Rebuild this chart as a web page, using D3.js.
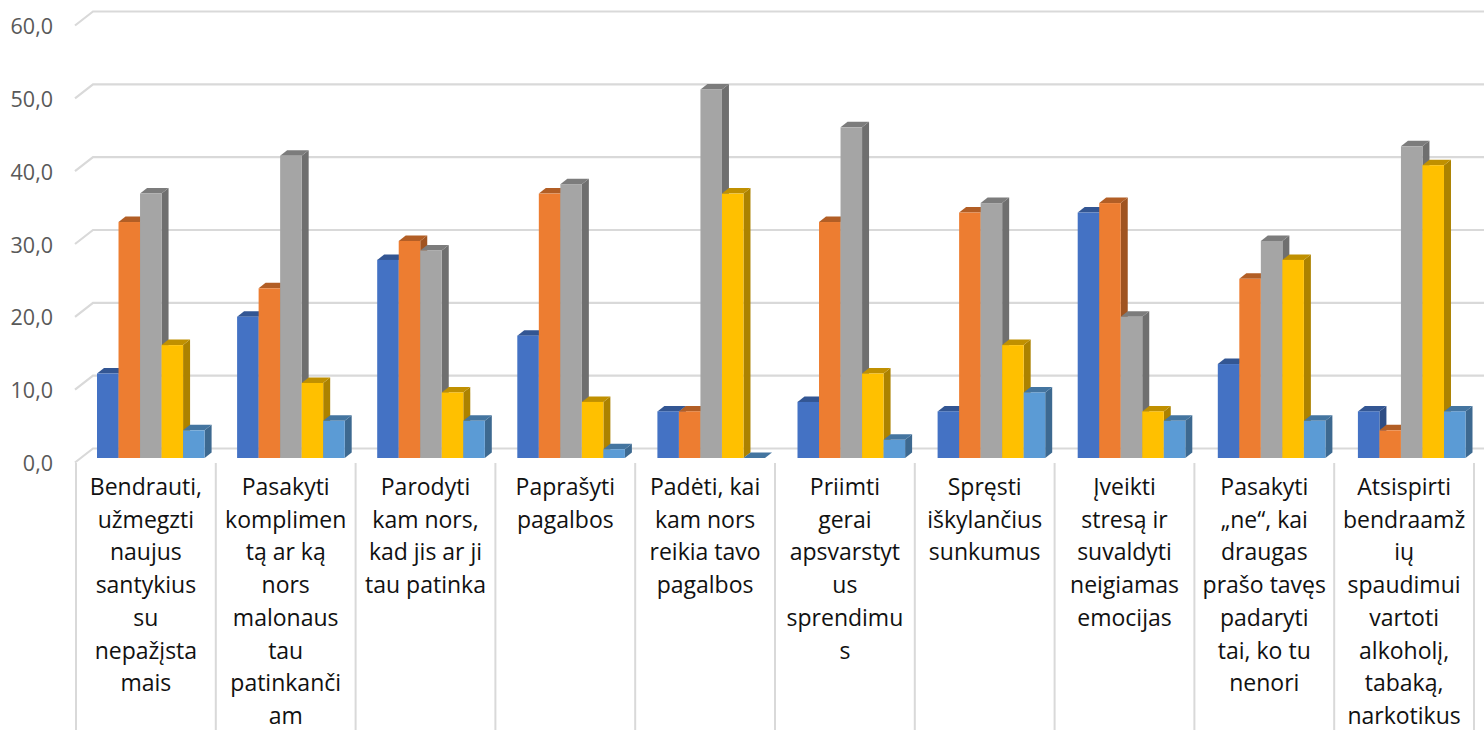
<!DOCTYPE html>
<html>
<head>
<meta charset="utf-8">
<style>
body{margin:0;background:#fff}
svg{display:block}
text{font-family:"Open Sans",sans-serif}
</style>
</head>
<body>
<svg width="1484" height="730"></svg>
<script src="https://d3js.org/d3.v7.min.js"></script>
<script>
// category labels, wrapped like in the original
var categories=[
 ["Bendrauti,","užmegzti","naujus","santykius","su","nepažįsta","mais"],
 ["Pasakyti","komplimen","tą ar ką","nors","malonaus","tau","patinkanči","am"],
 ["Parodyti","kam nors,","kad jis ar ji","tau patinka"],
 ["Paprašyti","pagalbos"],
 ["Padėti, kai","kam nors","reikia tavo","pagalbos"],
 ["Priimti","gerai","apsvarstyt","us","sprendimu","s"],
 ["Spręsti","iškylančius","sunkumus"],
 ["Įveikti","stresą ir","suvaldyti","neigiamas","emocijas"],
 ["Pasakyti","„ne“, kai","draugas","prašo tavęs","padaryti","tai, ko tu","nenori"],
 ["Atsispirti","bendraamž","ių","spaudimui","vartoti","alkoholį,","tabaką,","narkotikus"]
]
var s1=[11.6,19.4,27.2,16.8,6.4,7.7,6.4,33.7,12.9,6.4]
var s2=[32.4,23.3,29.8,36.3,6.4,32.4,33.7,35.0,24.6,3.8]
var s3=[36.3,41.5,28.5,37.6,50.6,45.4,35.0,19.4,29.8,42.8]
var s4=[15.5,10.3,9.0,7.7,36.3,11.6,15.5,6.4,27.2,40.2]
var s5=[3.8,5.1,5.1,1.2,0,2.5,9.0,5.1,5.1,6.4]
var series=[s1,s2,s3,s4,s5]
var colors=["#4472C4","#ED7D31","#A5A5A5","#FFC000","#5B9BD5"]
var yTicks=[0,10,20,30,40,50,60]

var svg=d3.select("svg")
var idx=d3.range(categories.length)
var x=d3.scaleBand().domain(idx).range([76,1474])    // separators and labels
var xBar=d3.scaleBand().domain(idx).range([76,1477]) // bars drift a bit from the separators
var xs=d3.scaleBand().domain(d3.range(series.length)).range([21,128.6])
var y=d3.scaleLinear().domain([0,60]).range([458,21])
var dx=7, dy=5.5

// gridlines: walls of the 3d box
var grid=svg.append("g").attr("fill","none").attr("stroke","#d9d9d9").attr("stroke-width",2.2)
grid.selectAll("path").data(yTicks).enter().append("path")
 .attr("d",function(d){
  return "M75 "+(y(d)+4.5)+"L93 "+(y(d)-9.5)+"H1484"
 })

// y axis, only the labels are kept
var yAxis=svg.append("g").attr("transform","translate(53,0)")
 .call(d3.axisLeft(y).tickValues(yTicks).tickSize(0).tickPadding(0)
  .tickFormat(function(d){return d3.format(".1f")(d).replace(".",",")}))
yAxis.select(".domain").remove()
yAxis.selectAll("text").attr("font-size",21.5).attr("fill","#595959").attr("dy",12.5)
 .style("font-family","'Open Sans',sans-serif")

// separators below the floor
svg.append("g").selectAll("line").data(d3.range(categories.length+1)).enter().append("line")
 .attr("x1",function(d){return 76+d*x.bandwidth()})
 .attr("x2",function(d){return 76+d*x.bandwidth()})
 .attr("y1",463).attr("y2",730)
 .attr("stroke","#d9d9d9").attr("stroke-width",2)

// bars
categories.forEach(function(c,i){
 var g=svg.append("g").attr("transform","translate("+xBar(i)+",0)")
 series.forEach(function(s,k){
  var v=s[i], x0=xs(k), w=xs.bandwidth(), top=y(v), base=y(0)
  var col=d3.color(colors[k])
  g.append("path") // side
   .attr("d","M"+(x0+w)+" "+top+"l"+dx+" "+(-dy)+"V"+(base-dy)+"l"+(-dx)+" "+dy+"Z")
   .attr("fill",col.darker(1.1))
  g.append("path") // top
   .attr("d","M"+x0+" "+top+"l"+dx+" "+(-dy)+"h"+w+"l"+(-dx)+" "+dy+"Z")
   .attr("fill",col.darker(0.8))
  g.append("rect") // front
   .attr("x",x0).attr("y",top).attr("width",w).attr("height",base-top)
   .attr("fill",colors[k])
 })
})

// category labels
var labels=svg.append("g").selectAll("text").data(categories).enter().append("text")
 .attr("text-anchor","middle").attr("font-size",23).attr("fill","#111")
labels.each(function(c,i){
 d3.select(this).selectAll("tspan").data(c).enter().append("tspan")
  .attr("x",x(i)+x.bandwidth()/2)
  .attr("y",function(d,j){return 495+j*32.7})
  .text(function(d){return d})
})
</script>
</body>
</html>
